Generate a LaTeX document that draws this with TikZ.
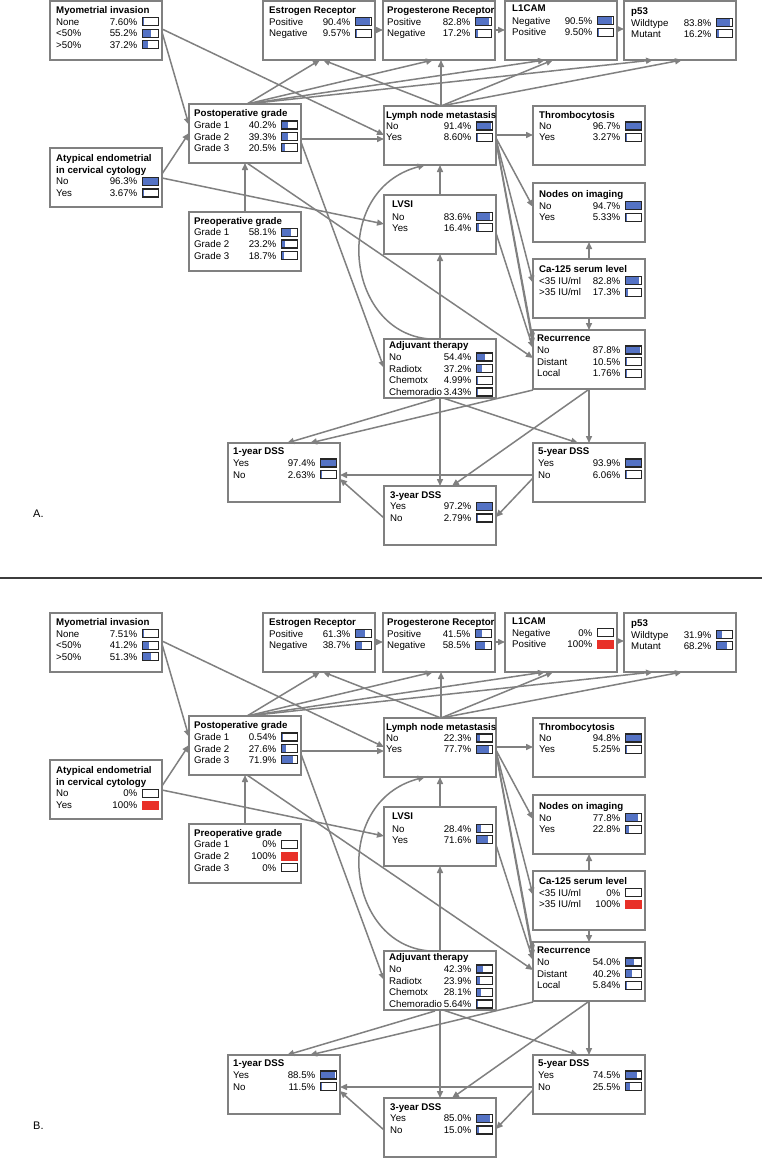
\documentclass[tikz,border=0pt]{standalone}
\usepackage{fontspec}
\setmainfont{Liberation Sans}
\usetikzlibrary{calc,arrows.meta}
\definecolor{boxgray}{RGB}{128,128,128}
\definecolor{bnblue}{RGB}{84,114,196}
\definecolor{bnred}{RGB}{232,48,40}
\definecolor{sepgray}{RGB}{60,60,60}
\tikzset{
 bnbox/.style={draw=boxgray, line width=1.9pt, minimum width=112pt, minimum height=59pt, inner sep=0pt, outer sep=0pt, anchor=north west, fill=white},
 bntitle/.style={font=\fontsize{9.7}{11}\selectfont\bfseries, inner sep=0pt, anchor=base west},
 bnlab/.style={font=\fontsize{9.7}{11}\selectfont, inner sep=0pt, anchor=base west},
 bnpct/.style={font=\fontsize{9.7}{11}\selectfont, inner sep=0pt, anchor=base east},
 bnframe/.style={draw=black!85, line width=1.4pt},
 edge/.style={draw=boxgray, line width=1.5pt, -{Triangle[length=7pt,width=6pt]}},
 panellab/.style={font=\fontsize{11}{13}\selectfont, inner sep=0pt, anchor=base west},
}
\def\OY{0}
\def\bnx{6}
\newcommand\bnbox[6]{%
 \node[bnbox] (#1) at (#2,{#3+\OY}) {};
 \node[bntitle] (#1t) at ($(#1.north west)+(#6,#5+3.5)$) {#4};
 \gdef\bnx{#6}}
\newcommand\bnrow[7]{%
 \node[bnlab] (#1l#2) at ($(#1.north west)+(\bnx,#3+3.5)$) {#4};
 \node[bnpct] (#1p#2) at ($(#1.north west)+(87.5,#3+3.5)$) {#5};
 \fill[white] ($(#1.north west)+(92.5,#3-4)$) rectangle ++(16,8);
 \fill[#7] ($(#1.north west)+(92.5,#3-4)$) rectangle ++({16*#6},8);
 \draw[bnframe] ($(#1.north west)+(92.5,#3-4)$) rectangle ++(16,8);}
\newcommand\bnrowred[5]{%
 \node[bnlab] (#1l#2) at ($(#1.north west)+(\bnx,#3+3.5)$) {#4};
 \node[bnpct] (#1p#2) at ($(#1.north west)+(87.5,#3+3.5)$) {#5};
 \fill[bnred] ($(#1.north west)+(92,#3-4.5)$) rectangle ++(17,9);}
\newcommand\bnedges[1]{%
 \draw[edge] ($(myo#1.north west)+(112,31)$) -- ($(post#1.north west)+(0,21)$);
 \draw[edge] ($(myo#1.north west)+(112,28)$) -- ($(lnm#1.north west)+(0,29)$);
 \draw[edge] ($(aty#1.north west)+(112,26)$) -- ($(post#1.north west)+(0,29)$);
 \draw[edge] ($(aty#1.north west)+(112,30)$) -- ($(lvsi#1.north west)+(0,29)$);
 \draw[edge] ($(pre#1.north west)+(56,0)$) -- ($(post#1.north west)+(56,59)$);
 \draw[edge] ($(post#1.north west)+(58,0)$) -- ($(er#1.north west)+(57,59)$);
 \draw[edge] ($(post#1.north west)+(58,0)$) -- ($(pr#1.north west)+(50,59)$);
 \draw[edge] ($(post#1.north west)+(58,0)$) -- ($(l1#1.north west)+(40,59)$);
 \draw[edge] ($(post#1.north west)+(58,0)$) -- ($(p53#1.north west)+(29,59)$);
 \draw[edge] ($(post#1.north west)+(112,35)$) -- ($(lnm#1.north west)+(0,33)$);
 \draw[edge] ($(post#1.north west)+(58,59)$) -- ($(rec#1.north west)+(0,28)$);
 \draw[edge] ($(post#1.north west)+(112,38)$) -- ($(adj#1.north west)+(0,29)$);
 \draw[edge] ($(er#1.north west)+(112,29)$) -- ($(pr#1.north west)+(0,29)$);
 \draw[edge] ($(pr#1.north west)+(112,29)$) -- ($(l1#1.north west)+(0,29)$);
 \draw[edge] ($(l1#1.north west)+(112,28)$) -- ($(p53#1.north west)+(0,28)$);
 \draw[edge] ($(lnm#1.north west)+(57,0)$) -- ($(er#1.north west)+(60,59)$);
 \draw[edge] ($(lnm#1.north west)+(57,0)$) -- ($(pr#1.north west)+(58,59)$);
 \draw[edge] ($(lnm#1.north west)+(57,0)$) -- ($(l1#1.north west)+(48,59)$);
 \draw[edge] ($(lnm#1.north west)+(57,0)$) -- ($(p53#1.north west)+(58,59)$);
 \draw[edge] ($(lnm#1.north west)+(112,29)$) -- ($(thr#1.north west)+(0,29)$);
 \draw[edge] ($(lnm#1.north west)+(112,32)$) -- ($(nod#1.north west)+(0,24)$);
 \draw[edge] ($(lnm#1.north west)+(112,33)$) -- ($(ca#1.north west)+(0,24)$);
 \draw[edge] ($(lnm#1.north west)+(112,34)$) -- ($(rec#1.north west)+(0,10)$);
 \draw[edge] ($(lnm#1.north west)+(112,35)$) -- ($(rec#1.north west)+(0,15)$);
 \draw[edge] ($(lvsi#1.north west)+(112,38)$) -- ($(rec#1.north west)+(0,18)$);
 \draw[edge] ($(lvsi#1.north west)+(56,0)$) -- ($(lnm#1.north west)+(56,59)$);
 \draw[edge] ($(adj#1.north west)+(56,0)$) -- ($(lvsi#1.north west)+(56,59)$);
 \draw[edge] ($(adj#1.north west)+(46,0)$) .. controls ($(adj#1.north west)+(-39,-6)$) and ($(lnm#1.north west)+(-54,84)$) .. ($(lnm#1.north west)+(41,59)$);
 \draw[edge] ($(ca#1.north west)+(56,0)$) -- ($(nod#1.north west)+(56,59)$);
 \draw[edge] ($(ca#1.north west)+(56,59)$) -- ($(rec#1.north west)+(56,0)$);
 \draw[edge] ($(rec#1.north west)+(0,60)$) -- ($(d1#1.north west)+(82,0)$);
 \draw[edge] ($(rec#1.north west)+(55,60)$) -- ($(d3#1.north west)+(68,0)$);
 \draw[edge] ($(rec#1.north west)+(56,59)$) -- ($(d5#1.north west)+(56,0)$);
 \draw[edge] ($(adj#1.north west)+(51,60)$) -- ($(d1#1.north west)+(59,0)$);
 \draw[edge] ($(adj#1.north west)+(56,59)$) -- ($(d3#1.north west)+(56,0)$);
 \draw[edge] ($(adj#1.north west)+(59,59)$) -- ($(d5#1.north west)+(45,0)$);
 \draw[edge] ($(d5#1.north west)+(0,32)$) -- ($(d1#1.north west)+(112,32)$);
 \draw[edge] ($(d5#1.north west)+(0,35)$) -- ($(d3#1.north west)+(112,31)$);
 \draw[edge] ($(d3#1.north west)+(0,32)$) -- ($(d1#1.north west)+(112,36)$);
}
\begin{document}
\begin{tikzpicture}[x=1pt,y=-1pt]
\useasboundingbox (0,0) rectangle (762,1159);
\fill[white] (0,0) rectangle (762,1159);
% ---------------- Panel A ----------------
\def\OY{0}
\bnbox{myoA}{50}{1}{Myometrial invasion}{9}{6}
\bnrow{myoA}{1}{20.7}{None}{7.60\%}{0.076}{bnblue}
\bnrow{myoA}{2}{32.3}{<50\%}{55.2\%}{0.552}{bnblue}
\bnrow{myoA}{3}{43.5}{>50\%}{37.2\%}{0.372}{bnblue}
\bnbox{erA}{263}{1}{Estrogen Receptor}{9}{6}
\bnrow{erA}{1}{20.7}{Positive}{90.4\%}{0.904}{bnblue}
\bnrow{erA}{2}{32.3}{Negative}{9.57\%}{0.0957}{bnblue}
\bnbox{prA}{383}{1}{Progesterone Receptor}{9}{4}
\bnrow{prA}{1}{20.7}{Positive}{82.8\%}{0.828}{bnblue}
\bnrow{prA}{2}{32.3}{Negative}{17.2\%}{0.172}{bnblue}
\bnbox{l1A}{505}{1}{L1CAM}{7.5}{7}
\bnrow{l1A}{1}{19.7}{Negative}{90.5\%}{0.905}{bnblue}
\bnrow{l1A}{2}{31.3}{Positive}{9.50\%}{0.095}{bnblue}
\bnbox{p53A}{624}{1}{p53}{9.7}{7}
\bnrow{p53A}{1}{21.7}{Wildtype}{83.8\%}{0.838}{bnblue}
\bnrow{p53A}{2}{32.7}{Mutant}{16.2\%}{0.162}{bnblue}
\bnbox{postA}{189}{104}{Postoperative grade}{9.3}{5}
\bnrow{postA}{1}{21}{Grade 1}{40.2\%}{0.402}{bnblue}
\bnrow{postA}{2}{32.5}{Grade 2}{39.3\%}{0.393}{bnblue}
\bnrow{postA}{3}{43.7}{Grade 3}{20.5\%}{0.205}{bnblue}
\bnbox{lnmA}{384}{106}{Lymph node metastasis}{8.7}{2}
\bnrow{lnmA}{1}{20}{No}{91.4\%}{0.914}{bnblue}
\bnrow{lnmA}{2}{31.3}{Yes}{8.60\%}{0.086}{bnblue}
\bnbox{thrA}{533}{106}{Thrombocytosis}{8.7}{6}
\bnrow{thrA}{1}{20}{No}{96.7\%}{0.967}{bnblue}
\bnrow{thrA}{2}{31.3}{Yes}{3.27\%}{0.0327}{bnblue}
\bnbox{atyA}{50}{148}{Atypical endometrial}{10}{6}
\node[bntitle] (atyAt2) at ($(atyA.north west)+(6,21.6+3.5)$) {in cervical cytology};
\bnrow{atyA}{1}{33.3}{No}{96.3\%}{0.963}{bnblue}
\bnrow{atyA}{2}{45}{Yes}{3.67\%}{0.0367}{bnblue}
\bnbox{preA}{189}{212}{Preoperative grade}{8.7}{5}
\bnrow{preA}{1}{20.3}{Grade 1}{58.1\%}{0.581}{bnblue}
\bnrow{preA}{2}{32}{Grade 2}{23.2\%}{0.232}{bnblue}
\bnrow{preA}{3}{43.7}{Grade 3}{18.7\%}{0.187}{bnblue}
\bnbox{lvsiA}{384}{195}{LVSI}{9.3}{8}
\bnrow{lvsiA}{1}{21.7}{No}{83.6\%}{0.836}{bnblue}
\bnrow{lvsiA}{2}{32.7}{Yes}{16.4\%}{0.164}{bnblue}
\bnbox{nodA}{533}{183}{Nodes on imaging}{11}{6}
\bnrow{nodA}{1}{22.7}{No}{94.7\%}{0.947}{bnblue}
\bnrow{nodA}{2}{34.3}{Yes}{5.33\%}{0.0533}{bnblue}
\bnbox{caA}{533}{259}{Ca-125 serum level}{10}{6}
\bnrow{caA}{1}{21.7}{<35 IU/ml}{82.8\%}{0.828}{bnblue}
\bnrow{caA}{2}{33.3}{>35 IU/ml}{17.3\%}{0.173}{bnblue}
\bnbox{recA}{533}{330}{Recurrence}{8.3}{4}
\bnrow{recA}{1}{20}{No}{87.8\%}{0.878}{bnblue}
\bnrow{recA}{2}{31.7}{Distant}{10.5\%}{0.105}{bnblue}
\bnrow{recA}{3}{43.3}{Local}{1.76\%}{0.0176}{bnblue}
\bnbox{adjA}{384}{339}{Adjuvant therapy}{6.3}{5}
\bnrow{adjA}{1}{18}{No}{54.4\%}{0.544}{bnblue}
\bnrow{adjA}{2}{29.6}{Radiotx}{37.2\%}{0.372}{bnblue}
\bnrow{adjA}{3}{41.3}{Chemotx}{4.99\%}{0.0499}{bnblue}
\bnrow{adjA}{4}{53}{Chemoradio}{3.43\%}{0.0343}{bnblue}
\bnbox{d1A}{228}{443}{1-year DSS}{8}{5}
\bnrow{d1A}{1}{20}{Yes}{97.4\%}{0.974}{bnblue}
\bnrow{d1A}{2}{31.6}{No}{2.63\%}{0.0263}{bnblue}
\bnbox{d5A}{533}{443}{5-year DSS}{8}{5}
\bnrow{d5A}{1}{20}{Yes}{93.9\%}{0.939}{bnblue}
\bnrow{d5A}{2}{31.6}{No}{6.06\%}{0.0606}{bnblue}
\bnbox{d3A}{384}{486}{3-year DSS}{8.7}{6}
\bnrow{d3A}{1}{20.3}{Yes}{97.2\%}{0.972}{bnblue}
\bnrow{d3A}{2}{32}{No}{2.79\%}{0.0279}{bnblue}
\bnedges{A}
\node[panellab] (labA) at (33,517) {A.};
% separator
\coordinate (sepL) at (0,578);
\coordinate (sepR) at (762,578);
\draw[sepgray, line width=1.8pt] (sepL) -- (sepR);
% ---------------- Panel B ----------------
\def\OY{612}
\bnbox{myoB}{50}{1}{Myometrial invasion}{9}{6}
\bnrow{myoB}{1}{20.7}{None}{7.51\%}{0.0751}{bnblue}
\bnrow{myoB}{2}{32.3}{<50\%}{41.2\%}{0.412}{bnblue}
\bnrow{myoB}{3}{43.5}{>50\%}{51.3\%}{0.513}{bnblue}
\bnbox{erB}{263}{1}{Estrogen Receptor}{9}{6}
\bnrow{erB}{1}{20.7}{Positive}{61.3\%}{0.613}{bnblue}
\bnrow{erB}{2}{32.3}{Negative}{38.7\%}{0.387}{bnblue}
\bnbox{prB}{383}{1}{Progesterone Receptor}{9}{4}
\bnrow{prB}{1}{20.7}{Positive}{41.5\%}{0.415}{bnblue}
\bnrow{prB}{2}{32.3}{Negative}{58.5\%}{0.585}{bnblue}
\bnbox{l1B}{505}{1}{L1CAM}{7.5}{7}
\bnrow{l1B}{1}{19.7}{Negative}{0\%}{0}{bnblue}
\bnrowred{l1B}{2}{31.3}{Positive}{100\%}
\bnbox{p53B}{624}{1}{p53}{9.7}{7}
\bnrow{p53B}{1}{21.7}{Wildtype}{31.9\%}{0.319}{bnblue}
\bnrow{p53B}{2}{32.7}{Mutant}{68.2\%}{0.682}{bnblue}
\bnbox{postB}{189}{104}{Postoperative grade}{9.3}{5}
\bnrow{postB}{1}{21}{Grade 1}{0.54\%}{0.0054}{bnblue}
\bnrow{postB}{2}{32.5}{Grade 2}{27.6\%}{0.276}{bnblue}
\bnrow{postB}{3}{43.7}{Grade 3}{71.9\%}{0.719}{bnblue}
\bnbox{lnmB}{384}{106}{Lymph node metastasis}{8.7}{2}
\bnrow{lnmB}{1}{20}{No}{22.3\%}{0.223}{bnblue}
\bnrow{lnmB}{2}{31.3}{Yes}{77.7\%}{0.777}{bnblue}
\bnbox{thrB}{533}{106}{Thrombocytosis}{8.7}{6}
\bnrow{thrB}{1}{20}{No}{94.8\%}{0.948}{bnblue}
\bnrow{thrB}{2}{31.3}{Yes}{5.25\%}{0.0525}{bnblue}
\bnbox{atyB}{50}{148}{Atypical endometrial}{10}{6}
\node[bntitle] (atyBt2) at ($(atyB.north west)+(6,21.6+3.5)$) {in cervical cytology};
\bnrow{atyB}{1}{33.3}{No}{0\%}{0}{bnblue}
\bnrowred{atyB}{2}{45}{Yes}{100\%}
\bnbox{preB}{189}{212}{Preoperative grade}{8.7}{5}
\bnrow{preB}{1}{20.3}{Grade 1}{0\%}{0}{bnblue}
\bnrowred{preB}{2}{32}{Grade 2}{100\%}
\bnrow{preB}{3}{43.7}{Grade 3}{0\%}{0}{bnblue}
\bnbox{lvsiB}{384}{195}{LVSI}{9.3}{8}
\bnrow{lvsiB}{1}{21.7}{No}{28.4\%}{0.284}{bnblue}
\bnrow{lvsiB}{2}{32.7}{Yes}{71.6\%}{0.716}{bnblue}
\bnbox{nodB}{533}{183}{Nodes on imaging}{11}{6}
\bnrow{nodB}{1}{22.7}{No}{77.8\%}{0.778}{bnblue}
\bnrow{nodB}{2}{34.3}{Yes}{22.8\%}{0.228}{bnblue}
\bnbox{caB}{533}{259}{Ca-125 serum level}{10}{6}
\bnrow{caB}{1}{21.7}{<35 IU/ml}{0\%}{0}{bnblue}
\bnrowred{caB}{2}{33.3}{>35 IU/ml}{100\%}
\bnbox{recB}{533}{330}{Recurrence}{8.3}{4}
\bnrow{recB}{1}{20}{No}{54.0\%}{0.540}{bnblue}
\bnrow{recB}{2}{31.7}{Distant}{40.2\%}{0.402}{bnblue}
\bnrow{recB}{3}{43.3}{Local}{5.84\%}{0.0584}{bnblue}
\bnbox{adjB}{384}{339}{Adjuvant therapy}{6.3}{5}
\bnrow{adjB}{1}{18}{No}{42.3\%}{0.423}{bnblue}
\bnrow{adjB}{2}{29.6}{Radiotx}{23.9\%}{0.239}{bnblue}
\bnrow{adjB}{3}{41.3}{Chemotx}{28.1\%}{0.281}{bnblue}
\bnrow{adjB}{4}{53}{Chemoradio}{5.64\%}{0.0564}{bnblue}
\bnbox{d1B}{228}{443}{1-year DSS}{8}{5}
\bnrow{d1B}{1}{20}{Yes}{88.5\%}{0.885}{bnblue}
\bnrow{d1B}{2}{31.6}{No}{11.5\%}{0.115}{bnblue}
\bnbox{d5B}{533}{443}{5-year DSS}{8}{5}
\bnrow{d5B}{1}{20}{Yes}{74.5\%}{0.745}{bnblue}
\bnrow{d5B}{2}{31.6}{No}{25.5\%}{0.255}{bnblue}
\bnbox{d3B}{384}{486}{3-year DSS}{8.7}{6}
\bnrow{d3B}{1}{20.3}{Yes}{85.0\%}{0.850}{bnblue}
\bnrow{d3B}{2}{32}{No}{15.0\%}{0.150}{bnblue}
\bnedges{B}
\node[panellab] (labB) at (33,1129) {B.};
\end{tikzpicture}
\end{document}
